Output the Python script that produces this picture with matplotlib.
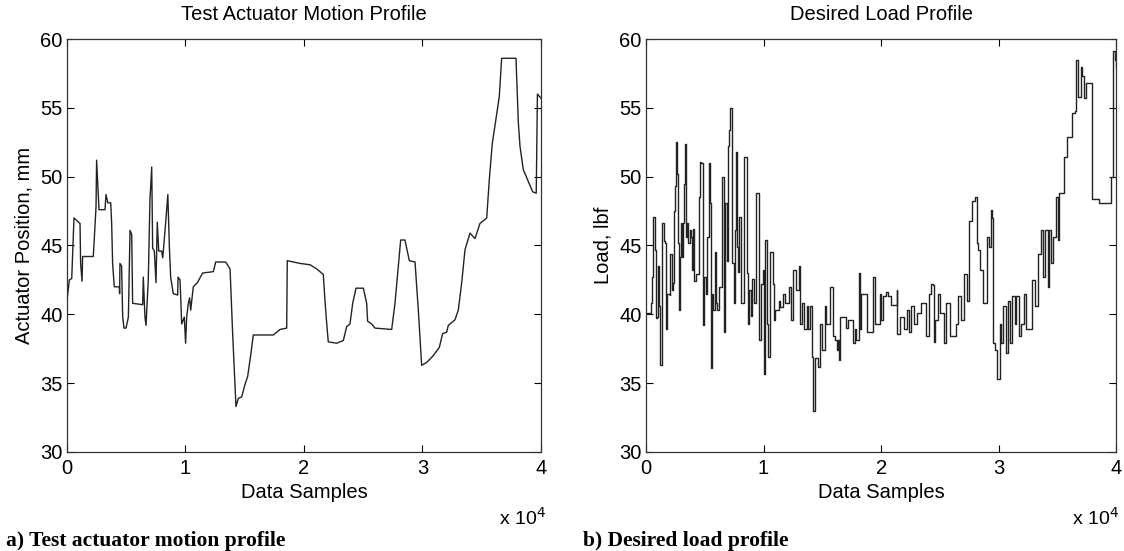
import matplotlib
matplotlib.use('Agg')
import matplotlib.pyplot as plt

# actuator motion profile (samples, mm)
pos_x = [0, 200, 400, 590, 1100, 1150, 1270, 1320, 2220, 2450, 2500, 2700, 3210, 3290,
         3450, 3690, 3770, 3850, 3990, 4420, 4440, 4470, 4610, 4700, 4810, 4980, 5180,
         5320, 5460, 5540, 6390, 6440, 6580, 6670, 6860, 7000, 7150, 7230, 7370, 7510,
         7620, 7740, 7990, 8080, 8190, 8350, 8510, 8640, 8750, 8970, 9340, 9370, 9540,
         9590, 9680, 9900, 10010, 10100, 10240, 10350, 10440, 10660, 11000, 11450, 12350,
         12550, 13390, 13760, 13980, 14260, 14460, 14740, 15020, 15250, 15530, 15720,
         17410, 17980, 18540, 18590, 19100, 19660, 20510, 21070, 21630, 21770, 21920,
         22050, 22760, 23320, 23600, 23880, 24110, 24390, 25010, 25290, 25370, 25710,
         25990, 27400, 27680, 27880, 28160, 28520, 28890, 29370, 29650, 29930, 30350,
         30910, 31420, 31700, 32040, 32180, 32740, 33020, 33310, 33590, 34010, 34430,
         34850, 35420, 35640, 35890, 36480, 36680, 37890, 38090, 38230, 38510, 39010,
         39300, 39600, 39700, 40000]
pos_y = [41.0, 42.5, 42.6, 47.0, 46.6, 43.7, 42.4, 44.2, 44.2, 47.8, 51.2, 47.6, 47.6, 48.7,
         48.1, 48.1, 46.6, 43.7, 42.0, 42.0, 41.5, 43.7, 43.5, 39.8, 39.0, 39.0, 39.8,
         46.1, 45.8, 40.8, 40.7, 42.7, 39.8, 39.2, 42.5, 48.3, 50.7, 44.8, 44.6, 42.3,
         46.7, 44.6, 44.6, 44.1, 45.2, 46.9, 48.7, 44.9, 42.7, 41.5, 41.4, 42.7, 42.5,
         41.3, 39.3, 39.8, 37.9, 39.8, 40.8, 41.2, 40.3, 42.0, 42.3, 43.0, 43.1,
         43.8, 43.8, 43.3, 38.6, 33.3, 33.9, 34.0, 34.9, 35.5, 37.2, 38.5,
         38.5, 38.9, 39.0, 43.9, 43.8, 43.7, 43.6, 43.3, 42.9, 41.0, 39.3,
         38.0, 37.9, 38.1, 39.1, 39.3, 40.8, 41.9, 41.9, 40.8, 39.5, 39.3,
         39.0, 38.9, 40.8, 42.7, 45.4, 45.4, 43.9, 43.8, 40.3, 36.3, 36.5,
         37.0, 37.6, 38.6, 38.7, 39.2, 39.6, 40.3, 42.3, 44.7, 45.9, 45.5,
         46.6, 47.0, 49.8, 52.4, 55.8, 58.6, 58.6, 53.9, 52.2, 50.5, 49.5,
         48.9, 48.8, 56.0, 55.7]

# desired load profile (samples, lbf)
load_x = [0, 337, 393, 506, 618, 730, 814, 955, 1039, 1123, 1235, 1348, 1404, 1516, 1628,
          1684, 1797, 2021, 2077, 2190, 2302, 2358, 2470, 2583, 2667, 2751, 2807, 2891,
          2975, 3060, 3144, 3200, 3313, 3369, 3481, 3593, 3706, 3818, 3930, 3986, 4070,
          4267, 4435, 4491, 4604, 4716, 4828, 4941, 5109, 5193, 5334, 5446, 5558, 5642,
          5727, 5839, 5951, 6063, 6232, 6456, 6625, 6737, 6905, 6990, 7102, 7186, 7298,
          7467, 7551, 7635, 7748, 7860, 7944, 8056, 8197, 8309, 8477, 8589, 8674, 8758,
          8927, 9039, 9207, 9376, 9628, 9769, 9937, 10049, 10162, 10302, 10414, 10527,
          10667, 10779, 10863, 11004, 11285, 11425, 11621, 11846, 12183, 12351, 12463,
          12632, 12744, 13025, 13109, 13249, 13474, 13670, 13811, 13923, 14148, 14232,
          14372, 14653, 14793, 14934, 15214, 15326, 15691, 15888, 16056, 16225, 16337,
          16421, 16505, 16758, 17039, 17179, 17600, 17741, 17881, 18077, 18162, 18246,
          18583, 18807, 19200, 19284, 19481, 19705, 19874, 19986, 20126, 20407, 20603,
          20828, 21249, 21333, 21389, 21614, 21951, 22231, 22372, 22568, 22793, 23074,
          23354, 23691, 23775, 24056, 24252, 24421, 24477, 24617, 24814, 24982, 25319,
          25488, 25712, 25824, 26161, 26386, 26554, 26779, 27059, 27284, 27509, 27705,
          27986, 28126, 28266, 28407, 28631, 28968, 29024, 29193, 29333, 29445, 29530,
          29698, 29866, 30091, 30231, 30372, 30596, 30793, 30933, 31158, 31354, 31495,
          31719, 31916, 32112, 32337, 32617, 32842, 33067, 33319, 33600, 33740, 33908,
          34161, 34302, 34470, 34638, 34863, 35031, 35144, 35565, 35845, 36266, 36491,
          36603, 36771, 36968, 37109, 37249, 37389, 37810, 37894, 38512, 39494, 39578,
          39691, 39859, 40000]
load_y = [40.1, 40.1, 40.8, 42.7, 47.1, 44.7, 39.7, 39.8, 43.5, 40.6, 36.3, 36.3, 46.6, 45.3,
          45.2,
          38.9, 41.5, 41.4, 44.4, 41.8, 42.3, 47.5, 49.3, 52.5, 50.2, 45.2, 40.3, 44.2,
          46.6, 44.2, 46.6, 49.5, 52.4, 45.6, 46.6, 45.2, 46.1, 45.6, 43.2, 46.2, 42.4,
          42.9, 42.9, 48.5, 51.1, 51.0, 39.2, 42.7, 41.5, 45.6, 51.0, 48.1, 36.1, 41.5,
          40.3, 44.5, 40.8, 40.3, 42.0, 50.0, 38.7, 48.1, 43.9, 52.2, 53.4, 55.0, 43.7,
          40.8, 46.1, 51.8, 44.9, 43.1, 47.1, 40.8, 40.8, 51.4, 51.4, 43.0, 39.3, 41.8,
          39.9, 42.6, 40.8, 48.8, 38.1, 42.2, 43.2, 35.7, 45.4, 39.3, 36.9, 44.5,
          44.5, 42.2, 39.6, 40.3, 41.0, 40.5, 41.5, 40.8, 42.0, 39.6, 43.2,
          43.2, 41.8, 43.5, 39.3, 40.8, 38.9, 40.6, 38.9, 40.6, 36.9, 33.0,
          36.8, 36.2, 39.3, 37.4, 40.6, 39.3, 42.0, 38.4, 38.1, 37.4, 38.1,
          36.7, 39.8, 39.8, 39.0, 39.6, 37.9, 38.9, 38.1, 43.0, 38.9, 41.5,
          41.5, 38.7, 38.7, 42.7, 39.3, 39.3, 41.5, 39.6, 41.3, 41.6, 41.3,
          40.7, 40.7, 41.8, 38.6, 39.8, 38.9, 40.3, 38.7, 40.6, 39.3, 40.1,
          40.8, 40.8, 38.4, 41.5, 42.2, 42.1, 38.0, 39.6, 41.5, 40.1, 37.9,
          40.8, 40.8, 38.4, 38.4, 39.3, 41.3, 39.6, 42.9, 41.0, 46.8, 48.2,
          48.5, 45.2, 44.7, 43.2, 40.8, 40.8, 45.6, 44.9, 47.6, 47.0, 37.9,
          37.4, 35.3, 39.3, 37.9, 40.6, 37.2, 41.0, 37.9, 41.3, 39.3, 41.3,
          38.4, 39.3, 41.5, 38.9, 38.9, 42.5, 40.6, 44.4, 46.1, 42.7, 46.1,
          42.0, 46.1, 43.7, 45.6, 48.5, 45.4, 48.8, 51.4, 52.9, 54.6, 54.8,
          58.5, 55.8, 58.0, 57.3, 55.7, 56.8, 56.8, 48.4, 48.1, 48.1, 50.0,
          59.1, 58.5, 58.0]

xticks = [0, 10000, 20000, 30000, 40000]
xticklabels = ['0', '1', '2', '3', '4']
yticks = [30, 35, 40, 45, 50, 55, 60]

plt.rcParams['font.family'] = ['Liberation Sans', 'DejaVu Sans']

fig = plt.figure(figsize=(11.24, 5.51), dpi=100)
ax1 = fig.add_axes([0.0596, 0.1797, 0.4217, 0.7495])
ax2 = fig.add_axes([0.5747, 0.1797, 0.4185, 0.7495])

panels = [
    (ax1, pos_x, pos_y, 'Test Actuator Motion Profile', 'Actuator Position, mm', None, 1.01),
    (ax2, load_x, load_y, 'Desired Load Profile', 'Load, lbf', 'steps-post', 1.005),
]
for ax, xs, ys, title, ylab, ds, offx in panels:
    if ds:
        ax.plot(xs, ys, color='#222222', lw=1.0, drawstyle=ds)
    else:
        ax.plot(xs, ys, color='#222222', lw=1.0)
    ax.set_xlim(0, 40000)
    ax.set_ylim(30, 60)
    ax.set_xticks(xticks)
    ax.set_xticklabels(xticklabels)
    ax.set_yticks(yticks)
    ax.tick_params(direction='in', top=True, right=True, labelsize=14.5, length=5,
                   width=0.8, pad=3)
    ax.tick_params(axis='x', pad=5)
    for s in ax.spines.values():
        s.set_linewidth(0.9)
        s.set_color('#333333')
    ax.set_title(title, fontsize=14.5, pad=14)
    ax.set_xlabel('Data Samples', fontsize=14.5, labelpad=4)
    ax.set_ylabel(ylab, fontsize=14.5, labelpad=5)
    ax.text(offx, -0.16, 'x 10$^4$', transform=ax.transAxes, ha='right', va='center',
            fontsize=14)

fig.text(0.005, 0.009, 'a) Test actuator motion profile', fontsize=15.5, fontweight='bold',
         family='Liberation Serif', ha='left', va='baseline')
fig.text(0.519, 0.009, 'b) Desired load profile', fontsize=15.5, fontweight='bold',
         family='Liberation Serif', ha='left', va='baseline')

fig.savefig('out.png', dpi=100)
